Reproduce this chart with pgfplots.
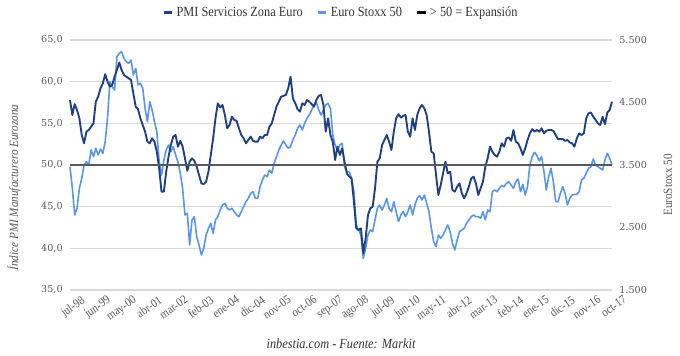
\documentclass[border=0pt]{standalone}
\usepackage{pgfplots}
\pgfplotsset{compat=1.18}
\usepackage{pgfplotstable}
\usepackage{fontspec}
\setmainfont[FakeStretch=0.88]{Liberation Serif}
\newfontfamily\tickfont{DejaVu Serif}
\definecolor{pmicol}{HTML}{1F3F7F}
\definecolor{stoxxcol}{HTML}{5B95E8}
\definecolor{txtgray}{HTML}{595959}
\definecolor{gridgray}{HTML}{D9D9D9}

\pgfplotstableread{
i pmi stoxx
0 57.8 3473
1 56.0 3127
2 57.3 2700
3 56.6 2807
4 55.6 3127
5 53.6 3287
6 52.6 3500
7 54.0 3553
8 54.2 3500
9 54.6 3740
10 55.0 3633
11 57.6 3767
12 58.2 3660
13 59.2 3756
14 59.8 3687
15 60.9 3873
16 60.0 4247
17 59.4 4833
18 59.6 4753
19 60.6 4700
20 61.4 5233
21 62.3 5287
22 61.4 5313
23 60.8 5207
24 60.6 5153
25 60.4 5127
26 60.2 5180
27 58.6 4940
28 57.0 5047
29 56.7 4780
30 55.6 4807
31 54.8 4727
32 54.0 4407
33 52.8 4193
34 52.6 4513
35 53.2 4380
36 52.8 4193
37 51.6 4033
38 49.6 3553
39 46.8 3340
40 46.8 3580
41 49.2 3740
42 51.0 3820
43 52.4 3713
44 53.4 3793
45 53.6 3660
46 52.2 3553
47 52.9 3367
48 52.2 3127
49 50.8 2700
50 49.3 2727
51 50.4 2220
52 50.8 2620
53 50.5 2673
54 49.8 2353
55 48.8 2220
56 47.8 2060
57 47.7 2167
58 48.0 2380
59 49.2 2487
60 51.2 2567
61 53.2 2407
62 55.6 2620
63 57.4 2673
64 56.9 2780
65 57.2 2860
66 56.0 2887
67 54.4 2807
68 54.8 2780
69 55.8 2807
70 55.4 2753
71 55.3 2700
72 54.4 2673
73 53.6 2753
74 53.2 2833
75 52.6 2913
76 53.0 2967
77 53.4 3047
78 52.9 3073
79 52.8 2967
80 52.8 2967
81 53.4 3153
82 53.2 3260
83 53.6 3340
84 53.6 3313
85 54.6 3420
86 55.0 3367
87 56.0 3527
88 57.0 3633
89 57.6 3740
90 58.2 3820
91 58.3 3884
92 58.4 3820
93 59.2 3767
94 60.6 3793
95 58.0 3900
96 57.4 3980
97 56.7 4087
98 56.4 4140
99 57.4 4060
100 57.2 4167
101 57.8 4247
102 57.6 4300
103 57.3 4380
104 57.0 4460
105 57.8 4503
106 58.3 4380
107 58.4 4300
108 57.2 4380
109 54.0 4460
110 55.6 4487
111 53.6 4400
112 52.8 3980
113 50.6 3820
114 52.2 3740
115 51.2 3820
116 52.0 3847
117 50.4 3473
118 49.0 3393
119 48.6 3393
120 48.4 3287
121 45.6 3073
122 42.4 2540
123 42.2 2460
124 42.4 2380
125 39.4 2007
126 41.2 2167
127 44.0 2380
128 44.8 2460
129 45.0 2433
130 47.2 2620
131 50.4 2807
132 50.8 2860
133 52.4 2780
134 53.0 2860
135 53.6 2967
136 52.8 2807
137 51.8 2753
138 54.0 2913
139 55.6 2753
140 56.1 2593
141 55.7 2700
142 55.9 2753
143 56.0 2673
144 54.0 2753
145 53.4 2860
146 55.6 2700
147 54.2 2860
148 56.0 2967
149 56.8 3010
150 57.2 2940
151 56.8 3020
152 56.0 2887
153 54.0 2753
154 51.6 2487
155 51.4 2273
156 48.8 2193
157 46.4 2380
158 47.6 2327
159 49.0 2380
160 50.4 2460
161 49.0 2540
162 49.2 2433
163 47.0 2247
164 46.8 2140
165 47.4 2300
166 47.8 2433
167 46.6 2460
168 46.0 2487
169 46.6 2567
170 47.4 2620
171 48.4 2673
172 48.6 2700
173 47.8 2673
174 46.4 2673
175 47.2 2647
176 48.0 2753
177 49.8 2620
178 50.8 2780
179 52.2 2753
180 51.6 3073
181 51.2 3100
182 51.0 3073
183 51.6 3127
184 52.6 3170
185 52.2 3153
186 53.2 3207
187 53.3 3233
188 52.9 3180
189 54.2 3127
190 52.8 3233
191 52.6 3276
192 52.0 3073
193 51.2 3190
194 52.0 3020
195 53.0 3153
196 53.8 3500
197 54.3 3633
198 54.0 3703
199 54.2 3650
200 54.0 3564
201 54.4 3633
202 53.8 3393
203 54.1 3100
204 54.2 3313
205 54.2 3447
206 54.1 3233
207 53.6 2913
208 53.1 2913
209 53.1 3047
210 53.1 3153
211 52.9 3047
212 53.0 2860
213 52.7 2967
214 52.6 3020
215 52.2 3030
216 53.2 3030
217 53.8 3073
218 53.6 3260
219 53.8 3287
220 55.6 3367
221 56.2 3447
222 56.3 3473
223 55.8 3596
224 55.4 3500
225 55.0 3473
226 54.8 3447
227 55.8 3420
228 54.9 3580
229 56.3 3687
230 56.6 3607
231 57.6 3500
}\datatable

\begin{document}
\begin{tikzpicture}
\useasboundingbox (-52.5pt,-49.5pt) rectangle (457.5pt,217.5pt);
\pgfplotsset{
  common/.style={
    width=406.5pt, height=187.5pt, scale only axis,
    at={(0,0)}, anchor=south west,
    xmin=0, xmax=231,
    clip=false,
  }
}
% Axis A: left axis, grid, x ticks, legend
\begin{axis}[common,
  ymin=35, ymax=65,
  ytick={35,40,45,50,55,60,65},
  ymajorgrids, grid style={gridgray, line width=0.8pt},
  axis line style={draw=none},
  axis y line*=left, axis x line*=bottom,
  major tick length=0pt,
  xtick={0,11,22,33,44,55,66,77,88,99,110,121,132,143,154,165,176,187,198,209,220,231},
  xticklabels={jul-98,jun-99,may-00,abr-01,mar-02,feb-03,ene-04,dic-04,nov-05,oct-06,sep-07,ago-08,jul-09,jun-10,may-11,abr-12,mar-13,feb-14,ene-15,dic-15,nov-16,oct-17},
  x tick label style={font=\fontsize{9.2}{10}\selectfont, text=txtgray, rotate=35, anchor=north east, inner sep=0.5pt, yshift=-7pt, xshift=5pt},
  y tick label style={font=\tickfont\fontsize{7.2}{8}\selectfont, text=txtgray, xshift=-2pt},
  yticklabel={\pgfmathprintnumber[fixed,fixed zerofill,precision=1,use comma]{\tick}},
  /pgf/number format/assume math mode=true,
  ylabel={\textit{Índice PMI Manufacturero Eurozona}},
  every axis y label/.style={at={(axis description cs:0,0.41)}, xshift=-42pt, rotate=90, anchor=center, font=\fontsize{9.5}{10}\selectfont, text=txtgray},
  legend columns=3,
  legend style={at={(0.5,1)}, anchor=south, yshift=12pt, draw=none, fill=none,
    font=\fontsize{10.5}{11}\selectfont, text=black!80,
    /tikz/every even column/.append style={column sep=8pt}},
  legend cell align=left,
]
\addlegendimage{line legend, pmicol, line width=2.5pt, legend image code/.code={\draw[line width=2.5pt,pmicol] (0pt,0pt) -- (6.5pt,0pt);}}
\addlegendentry{PMI Servicios Zona Euro}
\addlegendimage{line legend, stoxxcol, line width=2.5pt, legend image code/.code={\draw[line width=2.5pt,stoxxcol] (0pt,0pt) -- (6.5pt,0pt);}}
\addlegendentry{Euro Stoxx 50}
\addlegendimage{line legend, black, line width=2.5pt, legend image code/.code={\draw[line width=2.5pt,black] (0pt,0pt) -- (6.5pt,0pt);}}
\addlegendentry{> 50 = Expansión}
\node[font=\itshape\fontsize{10.5}{11}\selectfont, text=black!80] at (axis description cs:0.5,0) [yshift=-40pt] {inbestia.com - Fuente: Markit};
\end{axis}
% Axis B: right axis with Euro Stoxx 50
\begin{axis}[common,
  ymin=1500, ymax=5500,
  ytick={1500,2500,3500,4500,5500},
  axis y line*=right, axis x line=none,
  axis line style={draw=none},
  major tick length=0pt,
  y tick label style={font=\tickfont\fontsize{7.2}{8}\selectfont, text=txtgray, xshift=2pt},
  yticklabel={\pgfmathprintnumber[fixed,precision=0,1000 sep={.}]{\tick}},
  /pgf/number format/assume math mode=true,
  ylabel={EuroStoxx 50},
  every axis y label/.style={at={(axis description cs:1,0.42)}, xshift=42pt, rotate=90, anchor=center, font=\fontsize{9.5}{10}\selectfont, text=txtgray},
]
\addplot[stoxxcol, line width=1.2pt, line join=round] table[x=i, y=stoxx] {\datatable};
\end{axis}
% Axis C: PMI line and 50 line
\begin{axis}[common,
  ymin=35, ymax=65,
  axis lines=none, ticks=none,
]
\addplot[pmicol, line width=1.4pt, line join=round] table[x=i, y=pmi] {\datatable};
\addplot[black!65, line width=1pt] coordinates {(0,50) (231,50)};
\end{axis}
\end{tikzpicture}
\end{document}
